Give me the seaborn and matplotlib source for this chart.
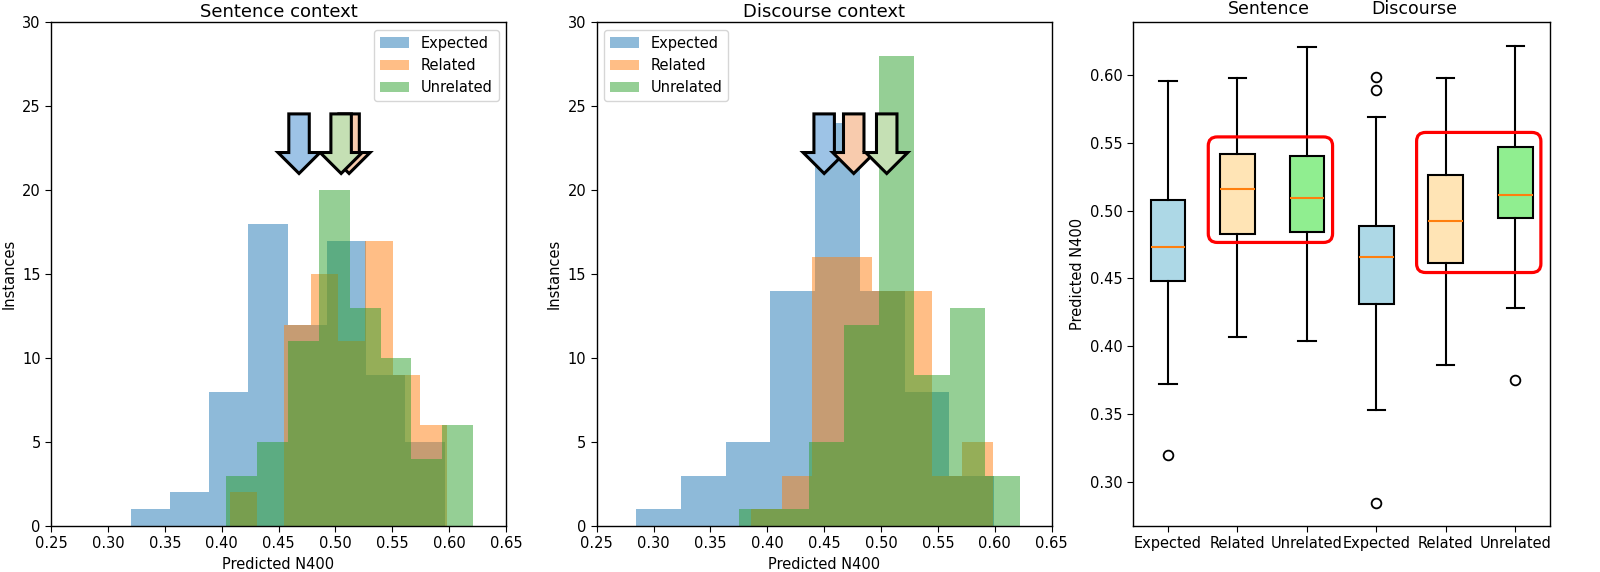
import numpy as np
import pandas as pd
import matplotlib
matplotlib.use("Agg")
import matplotlib.pyplot as plt
import seaborn as sns
from matplotlib.patches import FancyBboxPatch

# ---------------- data ----------------
conditions = ["Expected", "Related", "Unrelated"]
hist_colors = ["#1f77b4", "#ff7f0e", "#2ca02c"]
arrow_colors = ["#9dc3e6", "#f8cbad", "#c5e0b4"]

# Sentence context histograms: (min, max) range, 8 equal bins each, counts
sent_ranges = [(0.320, 0.596), (0.407, 0.598), (0.404, 0.621)]
sent_expected = [1, 2, 8, 18, 12, 17, 9, 5]
sent_related = [2, 0, 12, 15, 11, 17, 9, 6]
sent_unrelated = [3, 5, 11, 20, 13, 10, 4, 6]
sent_means = [0.468, 0.512, 0.505]

# Discourse context histograms
disc_ranges = [(0.2846, 0.5995), (0.386, 0.598), (0.375, 0.622)]
disc_expected = [1, 3, 5, 14, 24, 14, 8, 3]
disc_related = [1, 3, 16, 16, 14, 14, 3, 5]
disc_unrelated = [1, 1, 5, 12, 28, 9, 13, 3]
disc_means = [0.450, 0.476, 0.505]

# Box plot statistics (Sentence: E, R, U ; Discourse: E, R, U)
box_labels = ["Expected", "Related", "Unrelated", "Expected", "Related", "Unrelated"]
box_q1 = [0.4485, 0.4829, 0.4845, 0.4309, 0.4615, 0.4945]
box_med = [0.4734, 0.5161, 0.5096, 0.4661, 0.4926, 0.5113]
box_q3 = [0.5080, 0.5418, 0.5402, 0.4891, 0.5261, 0.5467]
box_whislo = [0.3722, 0.4068, 0.4038, 0.3532, 0.3865, 0.4285]
box_whishi = [0.5957, 0.5981, 0.6208, 0.5689, 0.5981, 0.6219]
box_fliers = [[0.3200], [], [], [0.5984, 0.5889, 0.2840], [], [0.3752]]
box_fill = ["lightblue", "moccasin", "lightgreen", "lightblue", "moccasin", "lightgreen"]

# ---------------- figure ----------------
plt.rcParams.update({
    "font.family": "DejaVu Sans",
    "axes.linewidth": 1.0,
    "xtick.labelsize": 10.5,
    "ytick.labelsize": 10.5,
    "axes.labelsize": 10.5,
    "xtick.major.size": 4,
    "ytick.major.size": 4,
})

fig = plt.figure(figsize=(16, 5.72), dpi=100)
ax1 = fig.add_axes([0.0319, 0.0804, 0.2844, 0.8804])
ax2 = fig.add_axes([0.3729, 0.0804, 0.2844, 0.8804])
ax3 = fig.add_axes([0.7083, 0.0804, 0.2604, 0.8804])


def draw_hist(ax, ranges, counts_list, means, title, legend_loc):
    for (lo, hi), counts, col, lab in zip(ranges, counts_list, hist_colors, conditions):
        edges = np.linspace(lo, hi, len(counts) + 1)
        centers = (edges[:-1] + edges[1:]) / 2
        df = pd.DataFrame({"value": centers, "count": counts})
        sns.histplot(data=df, x="value", weights="count", bins=list(edges),
                     color=col, alpha=0.5, linewidth=0, ax=ax, label=lab)
    for m, fc in zip(means, arrow_colors):
        ax.arrow(m, 24.55, 0, -3.55, width=0.018, head_width=0.037, head_length=1.25,
                 length_includes_head=True, facecolor=fc, edgecolor="black",
                 linewidth=2.2, zorder=5)
    ax.set_xlim(0.25, 0.65)
    ax.set_ylim(0, 30)
    ticks = np.arange(0.25, 0.651, 0.05)
    ax.set_xticks(ticks)
    ax.set_xticklabels([f"{v:.2f}" for v in ticks])
    ax.set_yticks(range(0, 31, 5))
    ax.set_xlabel("Predicted N400")
    ax.set_ylabel("Instances")
    ax.set_title(title, fontsize=13, pad=4)
    ax.legend(loc=legend_loc, fontsize=10.5)


draw_hist(ax1, sent_ranges, [sent_expected, sent_related, sent_unrelated],
          sent_means, "Sentence context", "upper right")
draw_hist(ax2, disc_ranges, [disc_expected, disc_related, disc_unrelated],
          disc_means, "Discourse context", "upper left")

# ---------------- box plots ----------------
stats = []
for i in range(6):
    stats.append(dict(med=box_med[i], q1=box_q1[i], q3=box_q3[i],
                      whislo=box_whislo[i], whishi=box_whishi[i],
                      fliers=box_fliers[i], label=box_labels[i]))
bp = ax3.bxp(stats, patch_artist=True, widths=0.5,
             boxprops=dict(linewidth=1.5, edgecolor="black"),
             whiskerprops=dict(linewidth=1.5),
             capprops=dict(linewidth=1.5),
             medianprops=dict(color="#ff7f0e", linewidth=1.5),
             flierprops=dict(marker="o", markerfacecolor="none",
                             markeredgecolor="black", markersize=7, markeredgewidth=1.3))
for patch, c in zip(bp["boxes"], box_fill):
    patch.set_facecolor(c)
ax3.set_ylabel("Predicted N400")
ax3.set_yticks([0.30, 0.35, 0.40, 0.45, 0.50, 0.55, 0.60])
ax3.set_yticklabels(["0.30", "0.35", "0.40", "0.45", "0.50", "0.55", "0.60"])
ax3.set_ylim(0.2673, 0.639)
ax3.set_xlim(0.5, 6.5)

# red rounded highlight boxes
for x0, x1, y0, y1 in [(1.58, 3.37, 0.4766, 0.5545), (4.58, 6.37, 0.4544, 0.5578)]:
    rect = FancyBboxPatch((x0, y0), x1 - x0, y1 - y0,
                          boxstyle="round,pad=0,rounding_size=0.13",
                          mutation_aspect=0.05, fill=False, edgecolor="red",
                          linewidth=2.3, zorder=6)
    ax3.add_patch(rect)

ax3.text(2.45, 1.008, "Sentence", transform=ax3.get_xaxis_transform(),
         ha="center", va="bottom", fontsize=12.5)
ax3.text(4.55, 1.008, "Discourse", transform=ax3.get_xaxis_transform(),
         ha="center", va="bottom", fontsize=12.5)

fig.savefig("out.png", dpi=100)
